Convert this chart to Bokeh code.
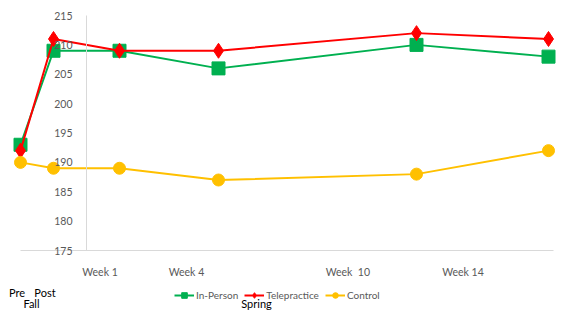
from bokeh.plotting import figure
from bokeh.models import (Range1d, LinearAxis, FixedTicker, Legend, LegendItem, Label)
from bokeh.embed import file_html
from bokeh.resources import INLINE

# ---- data ----
time_points = ["Pre", "Post", "Week 1", "Week 4", "Week 10", "Week 14"]
time_pos = [0, 1, 3, 6, 12, 16]          # week + 2 (Pre=0, Post=1)
in_person = [193, 209, 209, 206, 210, 208]
telepractice = [192, 211, 209, 209, 212, 211]
control = [190, 189, 189, 187, 188, 192]

y_ticks = [175, 180, 185, 190, 195, 200, 205, 210, 215]
week_labels = ["Week 1", "Week 4", "Week\u00a0\u00a010", "Week 14"]
week_label_pos = [2.41, 5.03, 9.92, 13.41]
term_labels = ["Pre", "Post", "Fall", "Spring"]

W, H = 565, 311
PX_X = 33.0
PX_Y = 5.875
FONT = "Lato"
GRAY = "#595959"

p = figure(width=W, height=H, output_backend="svg", toolbar_location=None,
           x_axis_type=None, y_axis_type=None,
           min_border=0, min_border_left=0, min_border_right=0,
           min_border_top=0, min_border_bottom=0)
x_start = -20 / PX_X
p.x_range = Range1d(x_start, x_start + W / PX_X)
y_end = 215 + 15 / PX_Y
p.y_range = Range1d(y_end - H / PX_Y, y_end)
p.outline_line_color = None
p.xgrid.visible = False
p.ygrid.visible = False
p.background_fill_color = "white"
p.border_fill_color = "white"

# y axis crossing at Week 0 position
yax = LinearAxis(fixed_location=2, bounds=(175, 215),
                 ticker=FixedTicker(ticks=y_ticks))
yax.axis_line_color = "#D9D9D9"
yax.major_tick_line_color = None
yax.minor_tick_line_color = None
yax.major_label_text_color = GRAY
yax.major_label_text_font = FONT
yax.major_label_text_font_size = "10.5px"
yax.major_label_standoff = 8
p.add_layout(yax, "left")

# x axis along y = 175
xax = LinearAxis(fixed_location=175, bounds=(0, 16.15),
                 ticker=FixedTicker(ticks=week_label_pos))
xax.major_label_overrides = {pos: lab for pos, lab in zip(week_label_pos, week_labels)}
xax.axis_line_color = "#D9D9D9"
xax.major_tick_line_color = None
xax.minor_tick_line_color = None
xax.major_label_text_color = GRAY
xax.major_label_text_font = FONT
xax.major_label_text_font_size = "10.5px"
xax.major_label_standoff = 9
p.add_layout(xax, "below")

series = [
    ("In-Person", in_person, "#00B050", "square", 13),
    ("Telepractice", telepractice, "#FF0000", "diamond", 15),
    ("Control", control, "#FFC000", "circle", 12),
]
items = []
for name, vals, col, marker, size in series:
    r1 = p.line(time_pos, vals, line_color=col, line_width=2)
    r2 = p.scatter(time_pos, vals, marker=marker, size=size,
                   fill_color=col, line_color=col)
    items.append(LegendItem(label=name, renderers=[r1, r2]))

legend = Legend(items=items, orientation="horizontal", location=(174, 9),
                label_text_font=FONT, label_text_font_size="10px",
                label_text_color=GRAY, glyph_width=20, glyph_height=14,
                label_height=14, label_standoff=2, spacing=6, padding=0,
                margin=0, border_line_color=None, background_fill_alpha=0)
p.add_layout(legend, "center")

# term labels below (screen position of centres, y measured from bottom)
term_xy = [(16.5, 13), (44.5, 13), (31, 2), (256, 2)]
for lab, (sx, sy) in zip(term_labels, term_xy):
    p.add_layout(Label(x=sx, y=sy, x_units="screen", y_units="screen",
                       text=lab, text_font=FONT, text_font_size="11px",
                       text_color="black", text_align="center",
                       text_baseline="bottom"))

open("out.html", "w").write(file_html(p, INLINE))
